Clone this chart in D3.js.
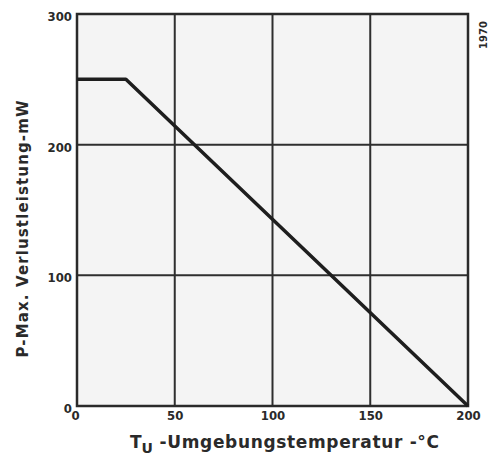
<!DOCTYPE html>
<html>
<head>
<meta charset="utf-8">
<script src="https://cdn.jsdelivr.net/npm/d3@7"></script>
<style>
  body { margin: 0; background: #fff; }
  text { font-family: "DejaVu Sans", sans-serif; fill: #2a2a2a; }
</style>
</head>
<body>
<div id="canvas"></div>
<script>
var temps = [0, 25, 200];
var power = [250, 250, 0];
var xTicks = [0, 50, 100, 150, 200];
var yTicks = [0, 100, 200, 300];

var W = 493, H = 462;
var m = {t: 14, r: 25, b: 56, l: 77};
var w = W - m.l - m.r, h = H - m.t - m.b;

var svg = d3.select('#canvas').append('svg')
    .attr('width', W).attr('height', H);

var plot = svg.append('g')
    .attr('transform', 'translate(' + m.l + ',' + m.t + ')');

var x = d3.scaleLinear().domain([0, 200]).range([0, w]);
var y = d3.scaleLinear().domain([0, 300]).range([h, 0]);

// paper tint inside the plot
plot.append('rect')
    .attr('width', w).attr('height', h)
    .attr('fill', '#f4f4f4');

// grid
plot.selectAll('.vgrid').data(xTicks).enter().append('line')
    .attr('x1', function(d){ return x(d); }).attr('x2', function(d){ return x(d); })
    .attr('y1', 0).attr('y2', h)
    .attr('stroke', '#2e2e2e').attr('stroke-width', 2);

plot.selectAll('.hgrid').data(yTicks).enter().append('line')
    .attr('y1', function(d){ return y(d); }).attr('y2', function(d){ return y(d); })
    .attr('x1', 0).attr('x2', w)
    .attr('stroke', '#2e2e2e').attr('stroke-width', 2);

// outer frame a bit heavier
plot.append('rect')
    .attr('width', w).attr('height', h)
    .attr('fill', 'none').attr('stroke', '#2a2a2a').attr('stroke-width', 2.5);

// derating curve
var pts = temps.map(function(t, i){ return [t, power[i]]; });
plot.append('path')
    .datum(pts)
    .attr('d', d3.line().x(function(d){ return x(d[0]); }).y(function(d){ return y(d[1]); }))
    .attr('fill', 'none').attr('stroke', '#1e1e1e').attr('stroke-width', 3.5)
    .attr('stroke-linejoin', 'round');

// tick labels
var axisX = d3.axisBottom(x).tickValues(xTicks).tickSize(0).tickPadding(5);
var axisY = d3.axisLeft(y).tickValues(yTicks).tickSize(0).tickPadding(5);

var gx = plot.append('g').attr('transform', 'translate(0,' + h + ')').call(axisX);
var gy = plot.append('g').call(axisY);
[gx, gy].forEach(function(g){
  g.select('.domain').remove();
  g.selectAll('text')
    .style('font-size', '13px')
    .style('font-family', '"DejaVu Sans Condensed", "DejaVu Sans", sans-serif')
    .style('font-weight', 'bold')
    .attr('fill', '#444');
});
gy.selectAll('text').attr('dy', '0.5em');
gx.selectAll('text').filter(function(d){ return d === 0; }).attr('dx', -2);

// axis titles
var xt = svg.append('text')
    .attr('x', 130).attr('y', 448)
    .style('font-size', '17px').style('font-weight', 'bold');
xt.append('tspan').text('T');
xt.append('tspan').attr('dy', 5).style('font-size', '14px').text('U');
xt.append('tspan').attr('dy', -5)
    .attr('textLength', 286).attr('lengthAdjust', 'spacing')
    .text(' -Umgebungstemperatur -°C');

svg.append('text')
    .attr('transform', 'translate(28,' + 229 + ') rotate(-90)')
    .attr('text-anchor', 'middle')
    .attr('textLength', 257).attr('lengthAdjust', 'spacing')
    .style('font-size', '15px').style('font-weight', 'bold')
    .text('P-Max. Verlustleistung-mW');

svg.append('text')
    .attr('transform', 'translate(487,35) rotate(-90)')
    .attr('text-anchor', 'middle')
    .style('font-size', '10px').style('font-weight', 'bold')
    .attr('fill', '#444')
    .text('1970');
</script>
</body>
</html>
